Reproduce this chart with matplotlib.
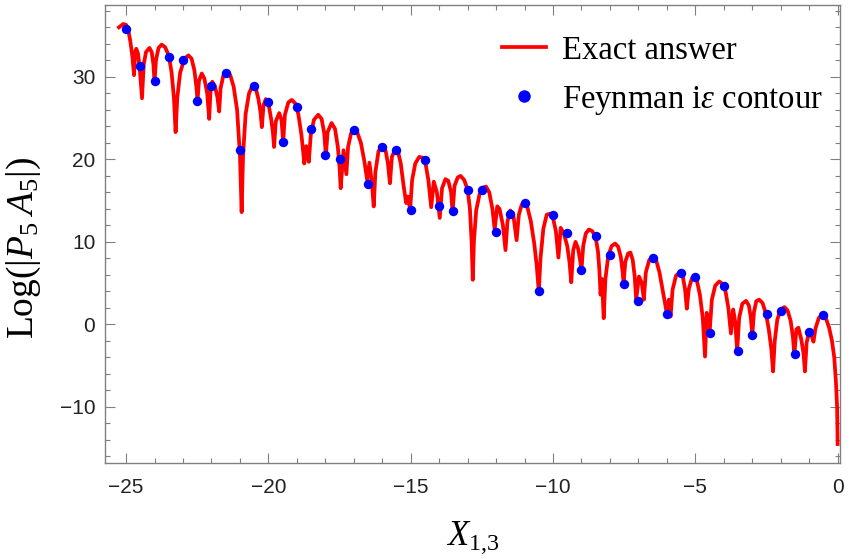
import matplotlib
matplotlib.use("Agg")
import matplotlib.pyplot as plt
from matplotlib.ticker import MultipleLocator
from matplotlib.lines import Line2D

# exact answer (arch tops, cusps and shoulder points)
curve_x = [-25.25, -25.1, -25.0, -24.92, -24.85, -24.78, -24.72, -24.68, -24.64, -24.58,
           -24.52, -24.44, -24.38, -24.3, -24.18, -24.1, -24.04, -24.0, -23.95, -23.86,
           -23.75, -23.63, -23.5, -23.4, -23.32, -23.26, -23.2, -23.1, -22.95, -22.81,
           -22.7, -22.6, -22.53, -22.49, -22.44, -22.34, -22.25, -22.15, -22.08, -22.03,
           -21.97, -21.88, -21.79, -21.73, -21.68, -21.58, -21.46, -21.34, -21.22, -21.1,
           -21.0, -20.94, -20.89, -20.8, -20.68, -20.55, -20.45, -20.35, -20.28, -20.23,
           -20.17, -20.09, -20.0, -19.9, -19.84, -19.8, -19.74, -19.62, -19.54, -19.48,
           -19.42, -19.3, -19.18, -19.06, -18.95, -18.84, -18.78, -18.74, -18.67, -18.58,
           -18.51, -18.4, -18.25, -18.13, -18.04, -17.98, -17.92, -17.78, -17.66, -17.56,
           -17.5, -17.46, -17.36, -17.26, -17.2, -17.1, -17.0, -16.88, -16.75, -16.63,
           -16.53, -16.45, -16.36, -16.3, -16.24, -16.13, -15.99, -15.88, -15.8, -15.73,
           -15.66, -15.55, -15.45, -15.35, -15.25, -15.16, -15.1, -15.02, -14.95, -14.84,
           -14.7, -14.58, -14.48, -14.38, -14.28, -14.19, -14.08, -13.98, -13.9, -13.78,
           -13.68, -13.58, -13.53, -13.46, -13.35, -13.25, -13.12, -13.0, -12.92, -12.86,
           -12.82, -12.78, -12.7, -12.58, -12.45, -12.35, -12.24, -12.13, -12.05, -11.96,
           -11.88, -11.76, -11.67, -11.6, -11.5, -11.4, -11.28, -11.2, -11.1, -11.0,
           -10.9, -10.78, -10.66, -10.57, -10.5, -10.44, -10.34, -10.22, -10.12, -10.0,
           -9.9, -9.81, -9.73, -9.62, -9.5, -9.42, -9.36, -9.29, -9.21, -9.12,
           -9.05, -9.0, -8.94, -8.85, -8.74, -8.62, -8.5, -8.42, -8.37, -8.33,
           -8.28, -8.22, -8.16, -8.06, -7.94, -7.82, -7.71, -7.62, -7.56, -7.52,
           -7.46, -7.36, -7.28, -7.2, -7.13, -7.08, -6.98, -6.88, -6.81, -6.74,
           -6.62, -6.5, -6.38, -6.26, -6.14, -6.05, -6.0, -5.93, -5.87, -5.8,
           -5.68, -5.55, -5.44, -5.36, -5.3, -5.23, -5.12, -5.04, -4.94, -4.84,
           -4.74, -4.66, -4.6, -4.5, -4.42, -4.3, -4.16, -4.04, -3.94, -3.84,
           -3.75, -3.67, -3.6, -3.53, -3.46, -3.35, -3.22, -3.12, -3.05, -3.0,
           -2.94, -2.86, -2.76, -2.64, -2.52, -2.42, -2.33, -2.27, -2.21, -2.12,
           -2.0, -1.87, -1.76, -1.65, -1.57, -1.52, -1.45, -1.38, -1.28, -1.2,
           -1.15, -1.09, -1.0, -0.92, -0.85, -0.78, -0.66, -0.53, -0.42, -0.3,
           -0.2, -0.12, -0.06, -0.02, 0.0]
curve_y = [36.0, 36.4, 36.3, 35.6, 34.3, 32.5, 30.2, 33.0, 33.4, 32.8,
           31.0, 27.4, 31.5, 33.0, 33.5, 33.0, 31.5, 29.4, 32.0, 33.5,
           33.9, 33.6, 32.6, 30.5, 27.5, 23.3, 27.5, 30.5, 32.2, 32.6,
           32.2, 30.8, 28.8, 27.1, 29.5, 30.4, 29.8, 28.0, 24.9, 28.5,
           29.4, 28.9, 27.5, 25.8, 28.6, 30.2, 30.6, 30.2, 28.8, 26.0,
           20.5, 13.6, 20.5, 25.5, 28.0, 29.0, 28.7, 27.3, 25.8, 23.9,
           26.6, 27.3, 26.8, 24.8, 23.2, 21.5, 24.6, 25.6, 24.8, 22.1,
           25.4, 26.9, 27.2, 26.8, 25.5, 23.0, 21.0, 19.5, 21.6, 19.7,
           23.0, 24.8, 25.4, 24.9, 23.2, 20.5, 23.3, 24.4, 23.7, 21.5,
           19.0, 16.5, 21.1, 18.2, 21.5, 23.1, 23.6, 23.3, 22.0, 19.8,
           17.5, 19.6, 17.0, 14.3, 18.5, 21.0, 21.6, 21.0, 19.5, 17.1,
           20.3, 21.2, 21.0, 19.5, 16.8, 14.7, 15.5, 13.9, 17.5, 19.5,
           20.3, 20.2, 19.5, 17.5, 14.2, 17.3, 16.0, 12.9, 16.5, 17.6,
           17.4, 16.0, 13.6, 16.8, 17.8, 18.0, 17.5, 16.3, 14.0, 10.0,
           5.4, 10.0, 13.8, 15.8, 16.6, 16.7, 16.0, 14.0, 11.5, 14.3,
           14.0, 12.0, 9.0, 12.5, 13.8, 13.4, 10.2, 13.3, 14.5, 14.8,
           14.2, 12.5, 9.8, 7.0, 4.0, 8.0, 11.6, 13.3, 13.4, 12.9,
           11.3, 8.1, 11.7, 11.0, 9.5, 7.5, 5.1, 9.0, 10.0, 9.2,
           7.8, 6.6, 9.5, 11.0, 11.5, 11.3, 10.5, 8.8, 6.5, 3.6,
           5.5, 0.75, 5.5, 8.3, 9.5, 9.8, 9.4, 8.2, 6.5, 5.0,
           7.6, 8.6, 8.7, 7.8, 5.8, 3.0, 5.8, 5.0, 3.0, 6.3,
           7.8, 8.2, 7.8, 6.3, 4.0, 2.2, 1.3, 3.0, 0.95, 4.2,
           5.9, 6.3, 5.8, 4.2, 1.9, 4.3, 5.6, 5.8, 5.2, 3.6,
           0.8, -3.9, 1.4, -1.1, 3.0, 4.7, 5.2, 4.9, 4.0, 2.0,
           -1.1, 1.8, 0.3, -3.2, 0.8, 2.5, 2.85, 2.3, 0.8, -1.3,
           1.5, 2.8, 3.0, 2.6, 1.3, -0.6, -3.0, -5.7, -2.0, 0.6,
           1.8, 2.1, 1.7, 0.4, -1.6, -3.6, -0.6, -0.4, -1.8, -3.5,
           -5.7, -2.2, -0.9, -1.3, -2.1, -0.5, 0.8, 1.15, 0.8, -0.4,
           -2.0, -4.0, -7.0, -10.0, -14.5]

# Feynman i-epsilon contour points
dot_x = [-25.0, -24.5, -24.0, -23.5, -23.0, -22.5, -22.0, -21.5, -21.0, -20.5,
         -20.0, -19.5, -19.0, -18.5, -18.0, -17.5, -17.0, -16.5, -16.0, -15.5,
         -15.0, -14.5, -14.0, -13.5, -13.0, -12.5, -12.0, -11.5, -11.0, -10.5,
         -10.0, -9.5, -9.0, -8.5, -8.0, -7.5, -7.0, -6.5, -6.0, -5.5,
         -5.0, -4.5, -4.0, -3.5, -3.0, -2.5, -2.0, -1.5, -1.0, -0.5]
dot_y = [35.8, 31.3, 29.5, 32.4, 32.0, 27.1, 28.9, 30.5, 21.1, 28.9,
         27.0, 22.1, 26.4, 23.7, 20.5, 20.1, 23.6, 17.0, 21.5, 21.1,
         13.9, 19.9, 14.4, 13.7, 16.3, 16.3, 11.2, 13.4, 14.7, 4.0,
         13.2, 11.1, 6.6, 10.7, 8.4, 4.9, 2.8, 8.1, 1.3, 6.2,
         5.7, -1.1, 4.7, -3.2, -1.3, 1.2, 1.6, -3.6, -0.9, 1.1]

plt.rcParams['mathtext.fontset'] = 'custom'
plt.rcParams['mathtext.rm'] = 'Liberation Serif'
plt.rcParams['mathtext.it'] = 'Liberation Serif:italic'
plt.rcParams['font.family'] = 'Liberation Sans'

fig = plt.figure(figsize=(8.51, 5.59), dpi=100)
ax = fig.add_axes([0.1234, 0.1717, 0.8636, 0.8193])

ax.plot(curve_x, curve_y, color='#ff0000', lw=2.7, solid_joinstyle='round', zorder=2)
ax.plot(dot_x, dot_y, 'o', color='#0000ff', ms=6.8, mec='none', zorder=3)

ax.set_xlim(-25.74, 0.08)
ax.set_ylim(-16.8, 38.7)

ax.xaxis.set_major_locator(MultipleLocator(5))
ax.xaxis.set_minor_locator(MultipleLocator(1))
ax.yaxis.set_major_locator(MultipleLocator(10))
ax.yaxis.set_minor_locator(MultipleLocator(2))

frame = '#808080'
for s in ax.spines.values():
    s.set_color(frame)
    s.set_linewidth(1.0)
ax.tick_params(which='both', direction='in', top=True, right=True, color=frame, width=0.8,
               labelsize=15, labelcolor='#222222')
ax.tick_params(which='major', length=7)
ax.tick_params(which='minor', length=3.5)
ax.tick_params(axis='x', which='major', pad=11)
ax.tick_params(axis='y', which='major', pad=7)

ax.set_xlabel(r'$X_{1{,}3}$', fontsize=25)
ax.set_ylabel(r'$\mathrm{Log}(|P_5\;A_5|)$', fontsize=27)
ax.xaxis.set_label_coords(0.5, -0.122)
ax.yaxis.set_label_coords(-0.084, 0.47)

handles = [Line2D([], [], color='#ff0000', lw=2.7),
           Line2D([], [], ls='none', marker='o', color='#0000ff', ms=9, mec='none')]
ax.legend(handles, ['Exact answer', r'Feynman i$\mathit{ε}$ contour'], loc='upper left',
          frameon=False, prop={'family': 'Liberation Serif', 'size': 23.5},
          handlelength=1.35, handletextpad=0.5, labelspacing=0.55,
          bbox_to_anchor=(0.5746, 0.960), bbox_transform=fig.transFigure, borderaxespad=0)

fig.savefig('out.png', dpi=100)
